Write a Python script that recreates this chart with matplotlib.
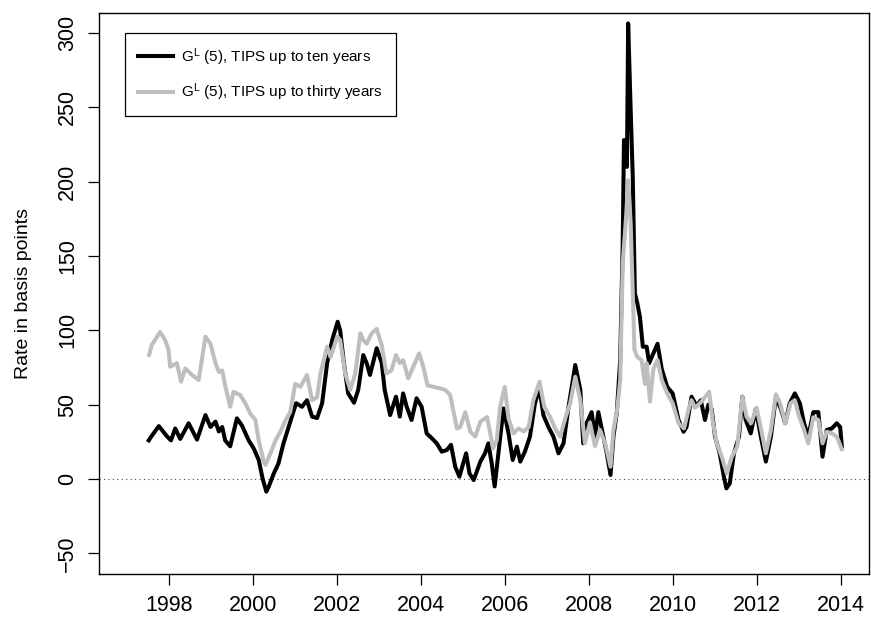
import matplotlib
matplotlib.use("Agg")
import matplotlib.pyplot as plt

plt.rcParams['font.family'] = ['Liberation Sans', 'DejaVu Sans']
plt.rcParams['mathtext.fontset'] = 'custom'
plt.rcParams['mathtext.rm'] = 'Liberation Sans'
plt.rcParams['mathtext.it'] = 'Liberation Sans'

# G^L(5), TIPS up to ten years (black)
ten_year = [1997.51, 1997.58, 1997.75, 1997.95, 1998.04, 1998.14, 1998.26, 1998.46, 1998.66, 1998.86,
            1998.98, 1999.10, 1999.18, 1999.26, 1999.33, 1999.45, 1999.61, 1999.73, 1999.89, 2000.01,
            2000.13, 2000.22, 2000.31, 2000.37, 2000.49, 2000.60, 2000.72, 2000.88, 2001.02, 2001.16,
            2001.28, 2001.40, 2001.52, 2001.64, 2001.76, 2001.88, 2002.01, 2002.07, 2002.15, 2002.26,
            2002.40, 2002.50, 2002.62, 2002.70, 2002.78, 2002.94, 2003.06, 2003.13, 2003.26, 2003.40,
            2003.49, 2003.57, 2003.65, 2003.77, 2003.89, 2004.01, 2004.13, 2004.25, 2004.37, 2004.49,
            2004.61, 2004.71, 2004.81, 2004.91, 2005.07, 2005.15, 2005.25, 2005.41, 2005.52, 2005.60,
            2005.68, 2005.75, 2005.84, 2005.96, 2006.08, 2006.18, 2006.28, 2006.36, 2006.47, 2006.59,
            2006.71, 2006.82, 2006.91, 2007.03, 2007.15, 2007.27, 2007.39, 2007.51, 2007.67, 2007.79,
            2007.86, 2007.94, 2008.06, 2008.14, 2008.22, 2008.34, 2008.42, 2008.51, 2008.58, 2008.66,
            2008.74, 2008.80, 2008.83, 2008.88, 2008.90, 2008.93, 2008.99, 2009.04, 2009.09, 2009.15,
            2009.21, 2009.28, 2009.37, 2009.43, 2009.53, 2009.63, 2009.73, 2009.86, 2009.99, 2010.13,
            2010.25, 2010.32, 2010.44, 2010.56, 2010.66, 2010.76, 2010.84, 2010.92, 2011.00, 2011.11,
            2011.21, 2011.27, 2011.35, 2011.45, 2011.57, 2011.65, 2011.73, 2011.85, 2011.97, 2012.09,
            2012.21, 2012.33, 2012.45, 2012.57, 2012.67, 2012.78, 2012.90, 2013.02, 2013.12, 2013.22,
            2013.34, 2013.46, 2013.56, 2013.66, 2013.78, 2013.90, 2013.98, 2014.02]
ten_rate = [26, 29, 35.6, 28.5, 26, 34, 27, 37.5, 26.5, 43,
            35, 38.6, 32, 35, 26, 22, 40.8, 36, 26, 20.6,
            12.8, 0.6, -8.5, -5, 3.8, 10.5, 24, 38.5, 51, 48.6,
            53, 42, 41, 51, 78, 93.5, 105.8, 100, 80, 57.6,
            51.3, 60, 83.4, 78, 70, 88, 78, 60, 43, 55.4,
            42, 57.6, 49, 39.7, 54.3, 48.6, 30.7, 27.5, 24, 18.4,
            19.5, 23, 8.3, 1.6, 17.3, 3.8, -0.7, 11.7, 17.3, 24,
            10.5, -5, 17.3, 47.5, 30.7, 12.8, 21.8, 11.7, 18.4, 28.5,
            51, 61, 43, 35, 28.5, 17.3, 24, 48.6, 76.7, 60,
            24, 37.5, 45, 28.5, 45, 28.5, 17.3, 2.7, 28.5, 45,
            80, 158.5, 228, 228, 210, 306.5, 248, 203, 125, 118,
            109, 89, 89, 78, 84.5, 91, 74, 62, 57.6, 39.7,
            31.8, 35, 55.4, 49, 53, 39.7, 50, 47, 28.5, 17.3,
            1.6, -6.3, -3, 17.3, 28.5, 55.4, 39.7, 30.7, 47, 28.5,
            11.7, 28.5, 55.4, 47, 37.5, 51, 57.6, 51, 37.5, 28.5,
            45, 45, 15, 33, 34, 37.5, 35, 22]

# G^L(5), TIPS up to thirty years (grey)
thirty_year = [1997.52, 1997.58, 1997.78, 1997.90, 1997.98, 1998.02, 1998.18, 1998.28, 1998.38, 1998.54,
               1998.70, 1998.86, 1998.98, 1999.10, 1999.18, 1999.26, 1999.33, 1999.45, 1999.53, 1999.69,
               1999.81, 1999.93, 2000.05, 2000.13, 2000.25, 2000.29, 2000.41, 2000.53, 2000.65, 2000.77,
               2000.88, 2001.00, 2001.12, 2001.28, 2001.40, 2001.52, 2001.60, 2001.76, 2001.84, 2002.00,
               2002.07, 2002.19, 2002.31, 2002.43, 2002.55, 2002.62, 2002.70, 2002.82, 2002.94, 2003.06,
               2003.17, 2003.29, 2003.40, 2003.49, 2003.57, 2003.69, 2003.81, 2003.95, 2004.05, 2004.15,
               2004.29, 2004.45, 2004.57, 2004.69, 2004.85, 2004.93, 2005.05, 2005.17, 2005.29, 2005.41,
               2005.57, 2005.66, 2005.71, 2005.80, 2005.88, 2005.99, 2006.08, 2006.20, 2006.32, 2006.44,
               2006.56, 2006.67, 2006.82, 2006.93, 2007.07, 2007.19, 2007.31, 2007.43, 2007.55, 2007.67,
               2007.79, 2007.90, 2008.02, 2008.14, 2008.26, 2008.38, 2008.51, 2008.58, 2008.67, 2008.74,
               2008.80, 2008.88, 2008.93, 2008.99, 2009.04, 2009.08, 2009.15, 2009.25, 2009.33, 2009.37,
               2009.45, 2009.53, 2009.63, 2009.73, 2009.86, 2009.99, 2010.13, 2010.26, 2010.37, 2010.44,
               2010.52, 2010.64, 2010.73, 2010.86, 2010.94, 2011.04, 2011.16, 2011.28, 2011.40, 2011.53,
               2011.65, 2011.75, 2011.86, 2011.99, 2012.10, 2012.21, 2012.33, 2012.45, 2012.55, 2012.67,
               2012.80, 2012.90, 2012.99, 2013.12, 2013.22, 2013.34, 2013.46, 2013.56, 2013.66, 2013.78,
               2013.90, 2014.02]
thirty_rate = [83.4, 90, 99, 93.5, 87, 75.5, 78, 65.5, 74.4, 70,
               66.6, 95.7, 91, 78, 72, 73, 63, 48.6, 58.7, 56.5,
               51, 44, 39.7, 26, 11.7, 9.5, 17.3, 26, 32, 39.7,
               45, 64, 62, 70, 53, 55, 71, 89, 82, 95.7,
               93.5, 71, 60, 71, 98, 93.5, 91, 98, 101, 90,
               71, 73, 83.4, 78, 80, 67.7, 75.5, 84.5, 75.5, 63,
               62, 61, 60, 56.5, 34, 35, 45, 31.8, 28.5, 38.6,
               41.7, 28.5, 20.6, 26, 48.6, 62, 40.8, 30.7, 34, 32,
               35, 53, 65.5, 48.6, 41.7, 34, 28.5, 40.8, 51, 68.8,
               53, 24, 38, 22, 33, 24, 8.3, 33, 47, 66.6,
               145, 176, 201, 172, 125, 87, 82, 80, 64, 78,
               52, 74, 80, 66.6, 57.6, 51, 37.5, 34, 47, 53,
               48, 51, 54, 58.7, 39.7, 24, 15, 3.8, 15, 22,
               55.4, 42, 37.5, 48, 33, 17.3, 33, 57, 51, 37.5,
               51, 53, 43, 33, 24, 41.5, 39.7, 24, 31.8, 30.7,
               28.5, 20]

year_ticks = [1998, 2000, 2002, 2004, 2006, 2008, 2010, 2012, 2014]
rate_ticks = [-50, 0, 50, 100, 150, 200, 250, 300]
labels = [r'G$^{\mathrm{L}}$ (5), TIPS up to ten years',
          r'G$^{\mathrm{L}}$ (5), TIPS up to thirty years']

W, H = 871, 619
fig = plt.figure(figsize=(W / 100, H / 100), dpi=100)
ax = fig.add_axes([99 / W, 1 - 574 / H, 770 / W, 561.3 / H])

ax.axhline(0, color='#444444', lw=0.8, ls=(0, (1, 3)))
ax.plot(ten_year, ten_rate, color='black', lw=2.9, label=labels[0], solid_joinstyle='round')
ax.plot(thirty_year, thirty_rate, color='#bebebe', lw=2.9, label=labels[1], solid_joinstyle='round')

ax.set_xlim(1996.325, 2014.667)
ax.set_ylim(-63.9, 313.7)
ax.set_xticks(year_ticks)
ax.set_yticks(rate_ticks)
ax.set_yticklabels([str(v).replace('-', '\u2212') for v in rate_ticks], rotation=90, va='center')
ax.tick_params(direction='out', length=8, width=0.9, labelsize=15.5, pad=7)
for s in ax.spines.values():
    s.set_linewidth(1.0)
ax.set_ylabel('Rate in basis points', fontsize=14, labelpad=18)

leg = ax.legend(loc='upper left', bbox_to_anchor=(125 / W, 1 - 33 / H), bbox_transform=fig.transFigure,
                fontsize=11, frameon=True, fancybox=False, edgecolor='black', framealpha=1,
                handlelength=2.3, handletextpad=0.5, borderpad=0.85, labelspacing=0.9,
                borderaxespad=0)
leg.get_frame().set_linewidth(0.9)

fig.savefig('out.png', dpi=100)
